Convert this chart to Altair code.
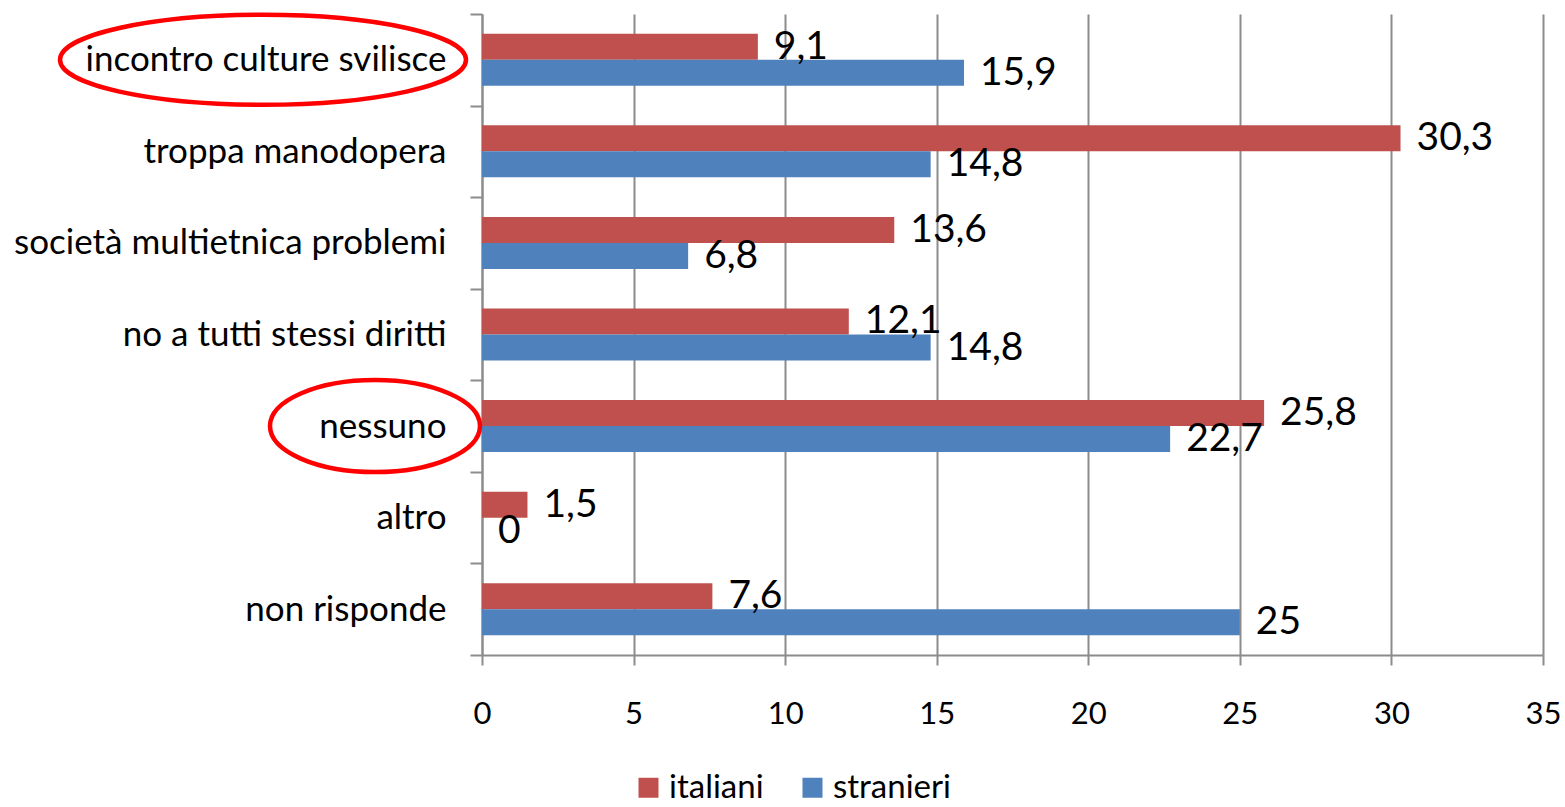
import altair as alt
import pandas as pd

# Answers per category, in display order (top to bottom)
categories = [
    "incontro culture svilisce",
    "troppa manodopera",
    "società multietnica problemi",
    "no a tutti stessi diritti",
    "nessuno",
    "altro",
    "non risponde",
]
italiani = [9.1, 30.3, 13.6, 12.1, 25.8, 1.5, 7.6]
stranieri = [15.9, 14.8, 6.8, 14.8, 22.7, 0, 25]
series = ["italiani", "stranieri"]
series_colors = ["#C0504D", "#4F81BD"]
x_ticks = [0, 5, 10, 15, 20, 25, 30, 35]

# Categories highlighted with a hand-drawn style ellipse
highlighted = ["incontro culture svilisce", "nessuno"]

FONT = "Lato"
GRID = "#8C8C8C"


def fmt(v):
    # Italian decimal comma, no trailing ",0"
    if float(v).is_integer():
        return str(int(v))
    return f"{v:.1f}".replace(".", ",")


rows = []
for cat, a, b in zip(categories, italiani, stranieri):
    rows.append({"categoria": cat, "gruppo": "italiani", "valore": a, "etichetta": fmt(a)})
    rows.append({"categoria": cat, "gruppo": "stranieri", "valore": b, "etichetta": fmt(b)})
df = pd.DataFrame(rows)

y_enc = alt.Y(
    "categoria:N",
    sort=categories,
    scale=alt.Scale(domain=categories, paddingInner=0, paddingOuter=0),
    axis=alt.Axis(
        title=None,
        tickBand="extent",
        tickSize=12,
        tickColor=GRID,
        tickWidth=2,
        domainColor=GRID,
        domainWidth=2,
        grid=False,
        labelFont=FONT,
        labelFontSize=35,
        labelColor="#000000",
        labelPadding=24,
        labelLimit=600,
    ),
)
yoff_enc = alt.YOffset(
    "gruppo:N",
    sort=series,
    scale=alt.Scale(domain=series, paddingInner=0, paddingOuter=0.76),
)
x_enc = alt.X(
    "valore:Q",
    scale=alt.Scale(domain=[0, 35], nice=False),
    axis=alt.Axis(
        title=None,
        values=x_ticks,
        grid=True,
        gridColor=GRID,
        gridWidth=2,
        tickSize=10,
        tickColor=GRID,
        tickWidth=2,
        domainColor=GRID,
        domainWidth=2,
        labelFont=FONT,
        labelFontSize=31,
        labelColor="#000000",
        labelPadding=34,
        labelFlush=False,
    ),
)
color_enc = alt.Color(
    "gruppo:N",
    sort=series,
    scale=alt.Scale(domain=series, range=series_colors),
    legend=alt.Legend(
        title=None,
        orient="none",
        direction="horizontal",
        legendX=150,
        legendY=757,
        symbolType="square",
        symbolSize=400,
        symbolStrokeWidth=0,
        labelFont=FONT,
        labelFontSize=33,
        labelColor="#000000",
        labelOffset=4,
        columnPadding=32,
    ),
)

bars = alt.Chart(df).mark_bar(size=26).encode(
    y=y_enc, yOffset=yoff_enc, x=x_enc, color=color_enc
)

labels = alt.Chart(df).mark_text(
    align="left", baseline="middle", dx=16, font=FONT, fontSize=39, color="#000000"
).encode(
    y=alt.Y("categoria:N", sort=categories),
    yOffset=alt.YOffset("gruppo:N", sort=series),
    x=alt.X("valore:Q"),
    text="etichetta:N",
)


def ellipse_path(ratio):
    # closed ellipse inside the unit square, built from four cubic curves
    k = 0.5523
    r = ratio
    return (
        f"M 1 0 C 1 {k*r:.4f} {k:.4f} {r:.4f} 0 {r:.4f} "
        f"C {-k:.4f} {r:.4f} -1 {k*r:.4f} -1 0 "
        f"C -1 {-k*r:.4f} {-k:.4f} {-r:.4f} 0 {-r:.4f} "
        f"C {k:.4f} {-r:.4f} 1 {-k*r:.4f} 1 0 Z"
    )


ell_df1 = pd.DataFrame({"categoria": [highlighted[0]]})
ell_df2 = pd.DataFrame({"categoria": [highlighted[1]]})

ellipse1 = alt.Chart(ell_df1).mark_point(
    shape=ellipse_path(45 / 203), size=(2 * 203) ** 2, filled=False,
    stroke="#FF0000", strokeWidth=4.5, opacity=1,
).encode(y=alt.Y("categoria:N", sort=categories), x=alt.value(-219))

ellipse2 = alt.Chart(ell_df2).mark_point(
    shape=ellipse_path(46 / 105), size=(2 * 105) ** 2, filled=False,
    stroke="#FF0000", strokeWidth=4.5, opacity=1,
).encode(y=alt.Y("categoria:N", sort=categories), x=alt.value(-107))

chart = (
    alt.layer(bars, labels, ellipse1, ellipse2)
    .properties(
        width=1061,
        height=641,
        autosize=alt.AutoSizeParams(type="none"),
        padding={"left": 482, "top": 14, "right": 22, "bottom": 152},
        background="#FFFFFF",
    )
    .configure_view(stroke=None)
)

chart.save("out.html", embed_options={"renderer": "svg", "actions": False})
